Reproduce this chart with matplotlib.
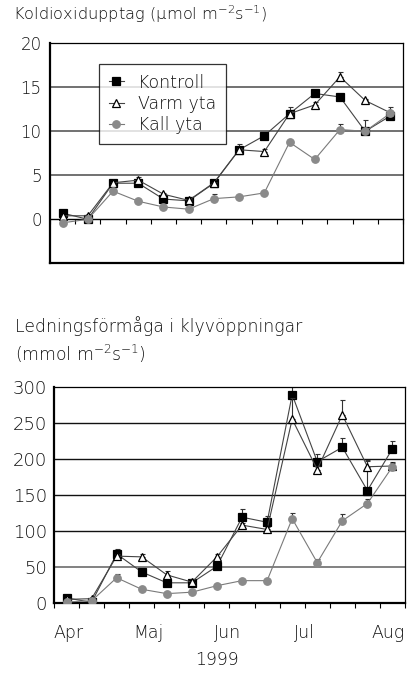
import numpy as np
import matplotlib
matplotlib.use("Agg")
import matplotlib.pyplot as plt

plt.rcParams['font.family'] = ['DejaVu Sans']
plt.rcParams['font.weight'] = 'light'

# mätomgångar (kategorier på x-axeln)
samples = list(range(14))

# Koldioxidupptag (µmol m-2 s-1)
co2_kontroll = [0.7, 0.0, 4.1, 4.1, 2.3, 2.1, 4.1, 7.9, 9.5, 12.0, 14.3, 13.9, 10.0, 11.75]
co2_varm = [0.4, 0.4, 4.15, 4.45, 2.85, 2.15, 4.15, 7.9, 7.7, 12.0, 13.0, 16.2, 13.5, 12.1]
co2_kall = [-0.4, 0.0, 3.2, 2.05, 1.4, 1.15, 2.35, 2.55, 3.0, 8.75, 6.8, 10.2, 10.0, 12.05]
co2_kontroll_err = [0.2, 0.0, 0.2, 0.2, 0.1, 0.1, 0.2, 0.7, 0.2, 0.8, 0.2, 0.2, 1.25, 0.3]
co2_varm_err = [0.1, 0.2, 0.1, 0.35, 0.1, 0.1, 0.1, 0.2, 0.3, 0.3, 0.3, 0.5, 0.2, 0.7]
co2_kall_err = [0.1, 0.1, 0.2, 0.1, 0.1, 0.1, 0.5, 0.2, 0.2, 0.2, 0.2, 0.65, 0.2, 0.2]

# Ledningsförmåga i klyvöppningar (mmol m-2 s-1)
gs_kontroll = [7, 1, 68, 43, 28, 28, 51, 119, 112, 289, 196, 216, 156, 214]
gs_varm = [5, 6, 65, 64, 39, 29, 64, 108, 102, 255, 185, 261, 189, 190]
gs_kall = [1.5, 3, 35, 19, 13, 15, 24, 31, 31, 117, 56, 114, 138, 189]
gs_kontroll_err = [2, 0, 7, 3, 3, 2, 3, 12, 9, 10, 11, 13, 43, 11]
gs_varm_err = [2, 2, 3, 4, 6, 4, 4, 3, 3, 30, 5, 21, 8, 5]
gs_kall_err = [1, 1, 5, 2, 1, 2, 2, 2, 2, 8, 5, 10, 6, 5]

# månadsetiketter (läge i kategorienheter)
month_labels = ['Apr', 'Maj', 'Jun', 'Jul', 'Aug']
month_pos = [0.1, 3.28, 6.42, 9.47, 12.83]
year_label = '1999'

series_names = ['Kontroll', 'Varm yta', 'Kall yta']

styles = [
    dict(marker='s', mfc='black', mec='black', color='#444444', ms=5.4, zorder=3),
    dict(marker='^', mfc='white', mec='black', color='#444444', ms=5.6, zorder=4),
    dict(marker='o', mfc='#8a8a8a', mec='#8a8a8a', color='#7a7a7a', ms=5.4, zorder=5),
]

TXT = '#111111'

fig = plt.figure(figsize=(4.12, 6.75), dpi=100)


def draw_series(ax, values, errors):
    handles = []
    for vals, errs, st, name in zip(values, errors, styles, series_names):
        z = st['zorder']
        ax.errorbar(samples, vals, yerr=[np.zeros(len(errs)), errs], fmt='none',
                    ecolor='#333333', elinewidth=0.8, capsize=1.8, capthick=0.8, zorder=z - 0.5)
        h, = ax.plot(samples, vals, linestyle='-', lw=0.8, color=st['color'],
                     marker=st['marker'], markerfacecolor=st['mfc'],
                     markeredgecolor=st['mec'], markersize=st['ms'],
                     markeredgewidth=0.9, zorder=z, label=name)
        handles.append(h)
    return handles


# ---- övre diagram: koldioxidupptag ----
ax1 = fig.add_axes([50 / 412, 1 - 263.3 / 675, 353 / 412, 220 / 675])
ax1.set_xlim(-0.5, 13.5)
ax1.set_ylim(-5, 20)
for yv in [5, 10, 15]:
    ax1.axhline(yv, color='#666666', lw=1.3, zorder=1)
handles = draw_series(ax1, [co2_kontroll, co2_varm, co2_kall],
                      [co2_kontroll_err, co2_varm_err, co2_kall_err])
ax1.spines['bottom'].set_position(('data', 0))
ax1.spines['bottom'].set_linewidth(1.0)
ax1.axhline(-5, color='black', lw=1.6, clip_on=False, zorder=6)
ax1.spines['left'].set_linewidth(1.6)
ax1.spines['top'].set_linewidth(0.9)
ax1.spines['right'].set_linewidth(0.9)
ax1.set_yticks([0, 5, 10, 15, 20])
ax1.tick_params(axis='y', length=0, pad=6, labelsize=12, labelcolor=TXT)
ax1.set_xticks([])
ax1.set_xticks(np.arange(-0.5, 14, 1), minor=True)
ax1.tick_params(axis='x', which='minor', direction='out', length=3.5, width=0.8)
leg = ax1.legend(handles=handles, loc='upper left', bbox_to_anchor=(0.139, 0.906),
                 frameon=True, fancybox=False, edgecolor='black', fontsize=12.5,
                 handlelength=0.9, handletextpad=0.8, labelspacing=0.2,
                 borderpad=0.55, borderaxespad=0)
leg.get_frame().set_linewidth(0.9)
for t in leg.get_texts():
    t.set_color(TXT)

fig.text(13 / 412, 1 - 20 / 675, 'Koldioxidupptag (µmol m$^{\\mathregular{-2}}$s$^{\\mathregular{-1}}$)',
         ha='left', va='baseline', fontsize=11.7, color=TXT)

# ---- nedre diagram: ledningsförmåga ----
ax2 = fig.add_axes([54 / 412, 1 - 603 / 675, 351 / 412, 216.3 / 675])
ax2.set_xlim(-0.5, 13.5)
ax2.set_ylim(0, 300)
for yv in [50, 100, 150, 200, 250]:
    ax2.axhline(yv, color='#777777' if yv == 50 else '#111111', lw=1.3 if yv == 50 else 1.0, zorder=1)
draw_series(ax2, [gs_kontroll, gs_varm, gs_kall],
            [gs_kontroll_err, gs_varm_err, gs_kall_err])
ax2.spines['left'].set_linewidth(1.6)
ax2.spines['bottom'].set_linewidth(1.6)
ax2.spines['top'].set_linewidth(0.9)
ax2.spines['right'].set_linewidth(0.9)
ax2.set_yticks([0, 50, 100, 150, 200, 250, 300])
ax2.tick_params(axis='y', length=0, pad=5, labelsize=13, labelcolor=TXT)
ax2.set_xticks([])
ax2.set_xticks(np.arange(-0.5, 14, 1), minor=True)
ax2.tick_params(axis='x', which='minor', direction='out', length=3.5, width=0.8)
for pos, lab in zip(month_pos, month_labels):
    ax2.text(pos, -0.162, lab, transform=ax2.get_xaxis_transform(),
             ha='center', va='baseline', fontsize=12.5, color=TXT)
fig.text(216.7 / 412, 1 - 665 / 675, year_label, ha='center', va='baseline',
         fontsize=12.5, color=TXT)

fig.text(15 / 412, 1 - 331.7 / 675, 'Ledningsförmåga i klyvöppningar',
         ha='left', va='baseline', fontsize=12.4, color=TXT)
fig.text(15 / 412, 1 - 360.7 / 675, '(mmol m$^{\\mathregular{-2}}$s$^{\\mathregular{-1}}$)',
         ha='left', va='baseline', fontsize=12.4, color=TXT)

fig.savefig('out.png', dpi=100)
